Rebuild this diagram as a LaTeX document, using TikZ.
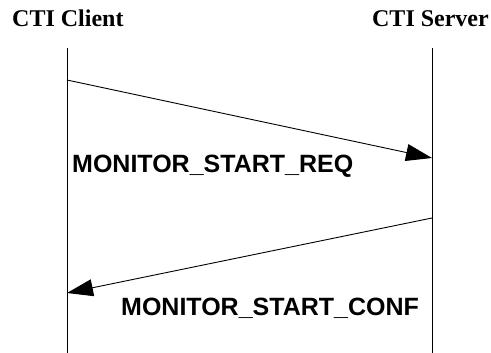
\documentclass[tikz,border=0pt]{standalone}
\usepackage{fontspec}
\setmainfont{Liberation Serif}
\newfontfamily\msgfont{Liberation Sans}
\usetikzlibrary{arrows.meta}

\begin{document}
\begin{tikzpicture}[x=1pt,y=1pt,yscale=-1,xscale=1,
  lifeline/.style={line width=1pt},
  msgline/.style={line width=0.9pt,-{Triangle[length=26pt,width=17pt]}},
  titlelbl/.style={inner sep=0pt,font=\fontsize{24}{25}\selectfont\bfseries},
  msglbl/.style={inner sep=0pt,font=\msgfont\fontsize{25}{26}\selectfont\bfseries}]
\useasboundingbox (0,0) rectangle (491,353);

% Text Node
\node (client) [titlelbl,anchor=base west] at (12,27) {CTI Client};
% Text Node
\node (server) [titlelbl,anchor=base east] at (489,27) {CTI Server};

%Shape: Lifelines
\coordinate (cltop) at (67,48);
\coordinate (clbot) at (67,353);
\coordinate (svtop) at (432,48);
\coordinate (svbot) at (432,353);
\draw [lifeline] (cltop) -- (clbot);
\draw [lifeline] (svtop) -- (svbot);

%Shape: Messages
\coordinate (reqfrom) at (67,80);
\coordinate (reqto) at (432,158);
\coordinate (conffrom) at (432,218);
\coordinate (confto) at (67,293);
\draw [msgline] (reqfrom) -- (reqto);
\draw [msgline] (conffrom) -- (confto);

% Text Node
\node (reqlbl) [msglbl,anchor=base west] at (72,172) {MONITOR\_START\_REQ};
% Text Node
\node (conflbl) [msglbl,anchor=base west] at (121,315) {MONITOR\_START\_CONF};

\end{tikzpicture}
\end{document}
